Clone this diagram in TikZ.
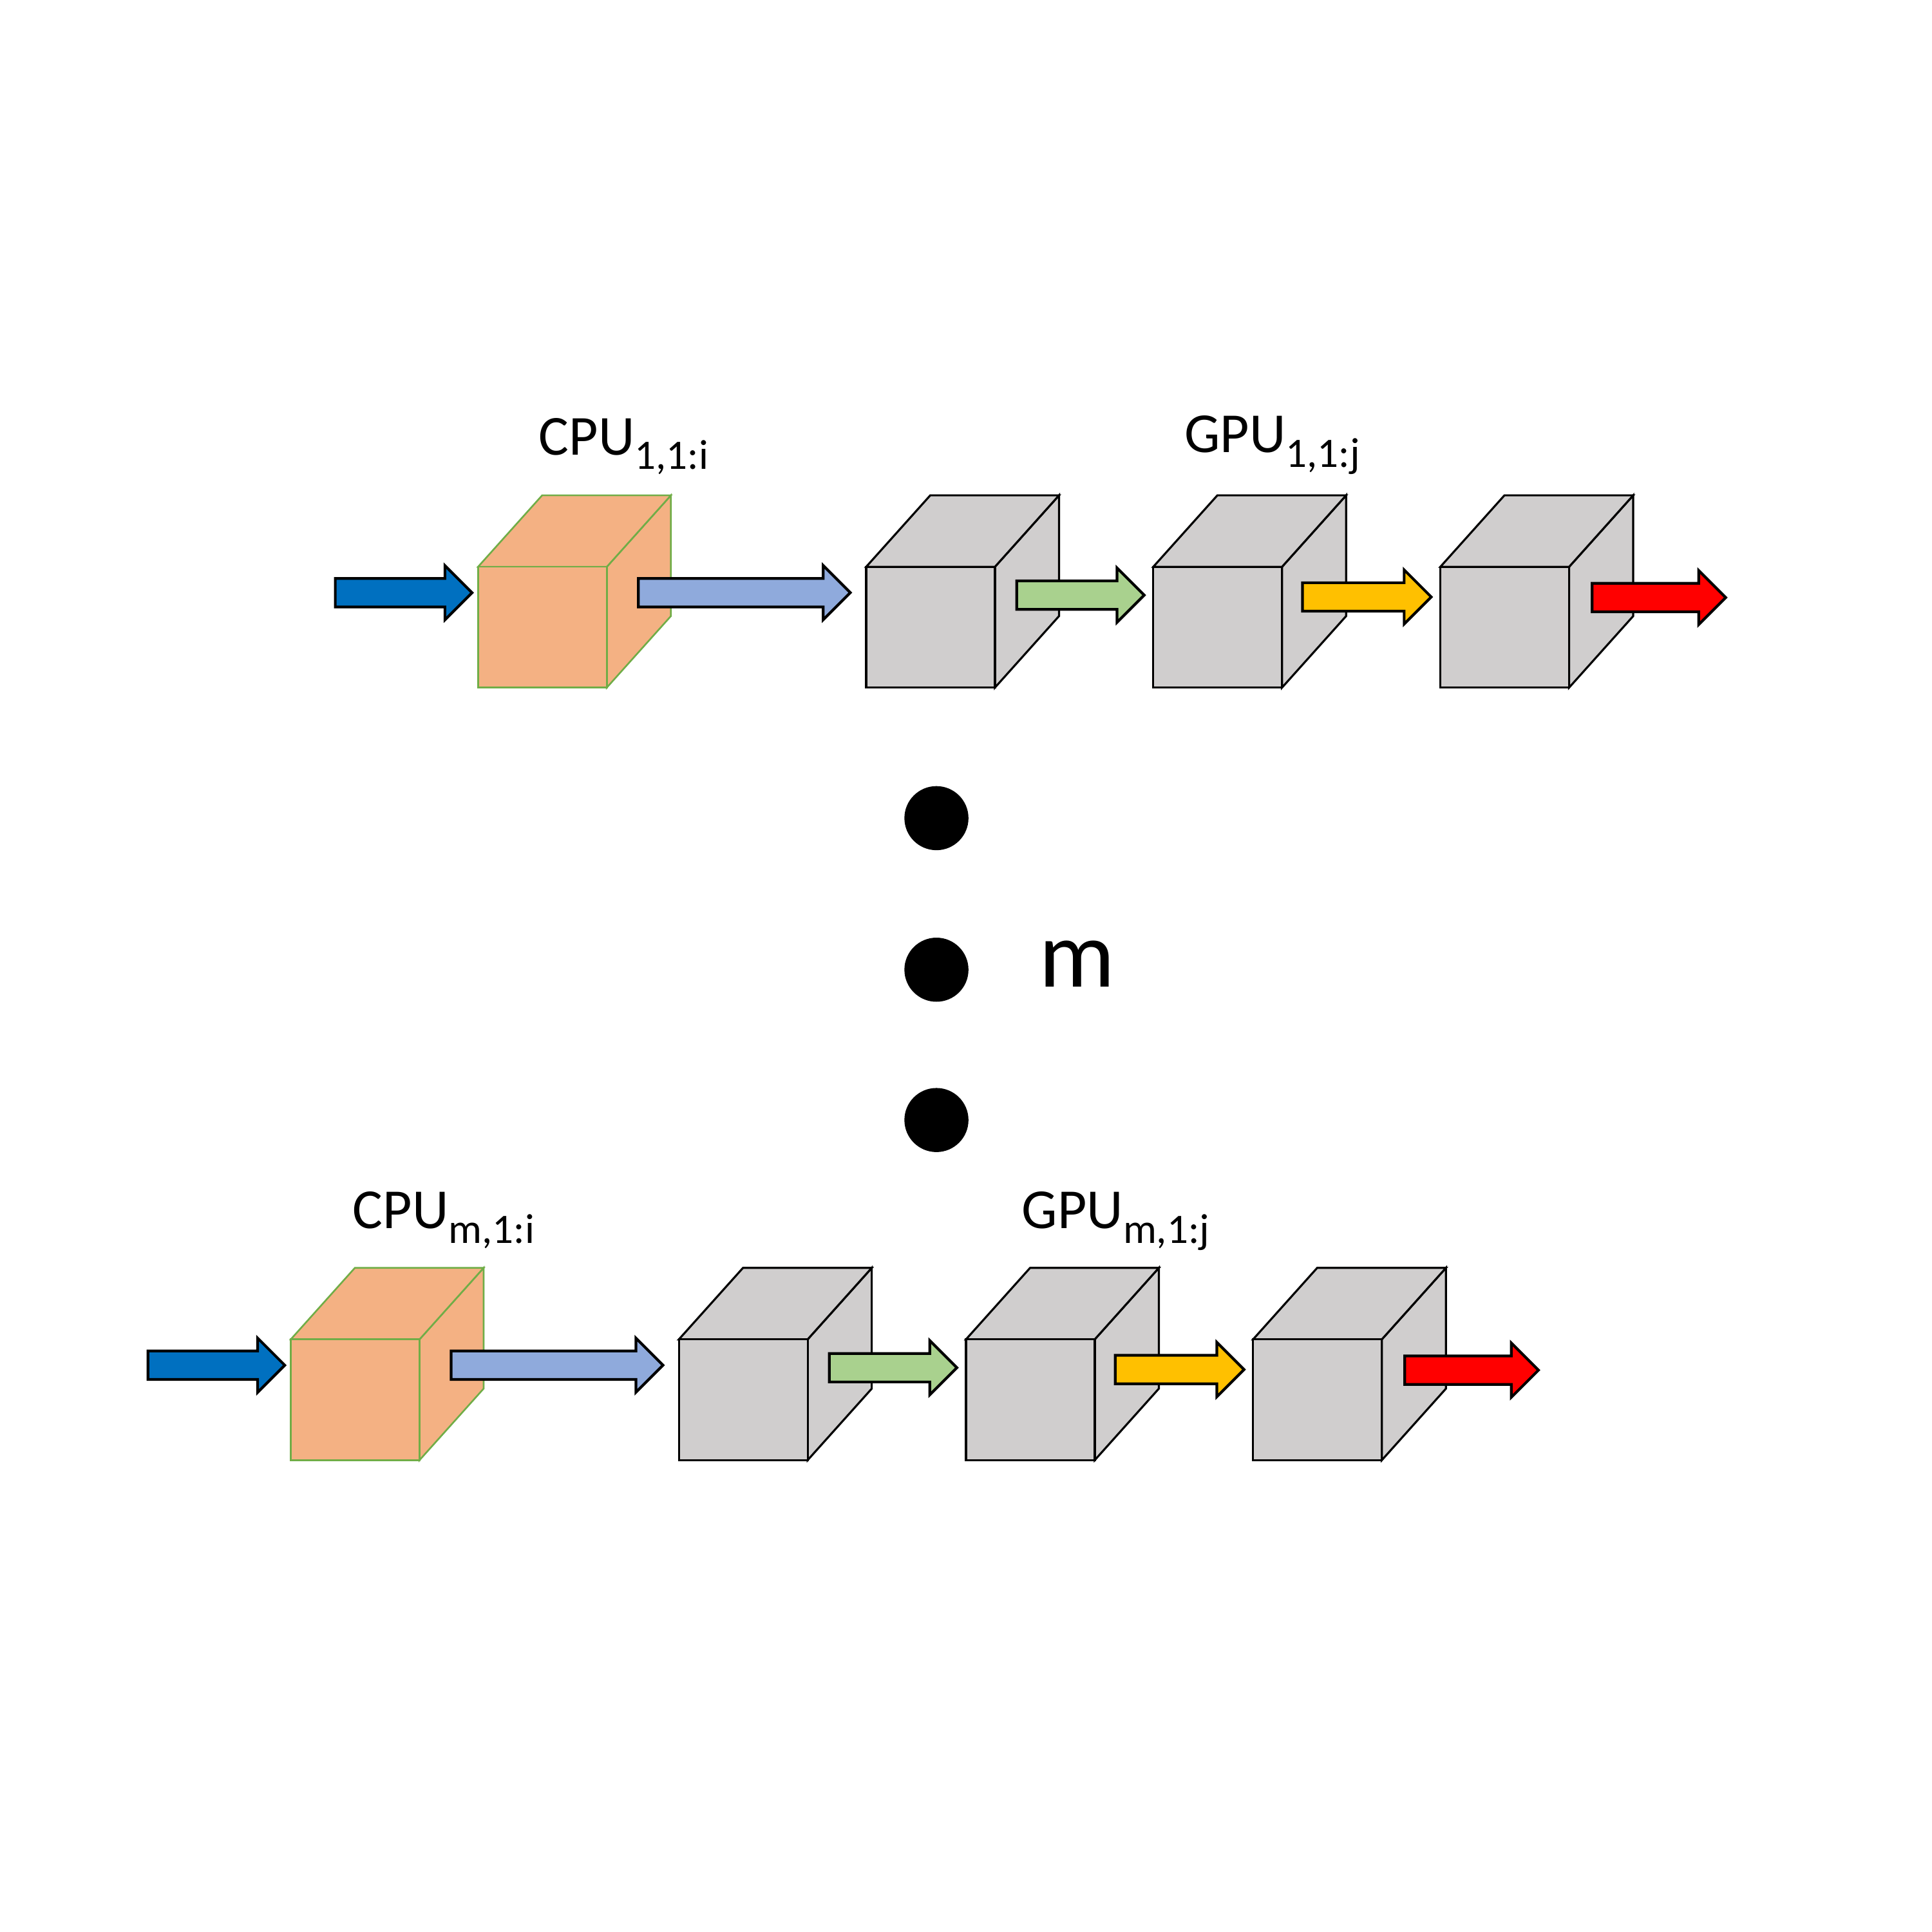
\documentclass[tikz,border=0pt]{standalone}
\usepackage{fontspec}
\setmainfont{Carlito}
\usetikzlibrary{shapes.arrows}
\definecolor{cpufill}{HTML}{F4B183}
\definecolor{cpuline}{HTML}{70AD47}
\definecolor{gpufill}{HTML}{D0CECE}
\definecolor{arrA}{HTML}{0070C0}
\definecolor{arrB}{HTML}{8FAADC}
\definecolor{arrC}{HTML}{A9D18E}
\definecolor{arrD}{HTML}{FFC000}
\definecolor{arrE}{HTML}{FF0000}
\newcommand\lowsub[1]{\raisebox{-0.26em}{\fontsize{18.5}{18.5}\selectfont #1}}
\tikzset{
  pics/cube/.style={code={
    \draw[#1] (104.5,0) -- (156.5,-58) -- (156.5,40) -- (104.5,98) -- cycle;
    \draw[#1] (0,0) -- (52,-58) -- (156.5,-58) -- (104.5,0) -- cycle;
    \node[#1, anchor=north west, minimum width=2.0cm, minimum height=1.875cm, inner sep=0pt, outer sep=0pt] (-f) at (0,0) {};
  }},
  cpucube/.style={fill=cpufill, draw=cpuline, line width=0.75pt, line join=miter},
  gpucube/.style={fill=gpufill, draw=black, line width=0.9pt, line join=miter},
  flow/.style={single arrow, draw=black, line width=1.2pt, inner xsep=0pt, inner ysep=0.2cm,
    single arrow head extend=0.2cm, single arrow tip angle=90, minimum width=0pt, anchor=tail},
  alen/.style={minimum height=#1*0.019133cm},
  lbl/.style={anchor=base west, inner sep=0pt, font=\fontsize{25}{30}\selectfont},
  dot/.style={circle, fill=black, inner sep=0pt, minimum size=0.995cm},
}
\begin{document}
\begin{tikzpicture}[x=0.019133cm,y=-0.019133cm]
\fill[white] (0,0) rectangle (1568,1568);
\useasboundingbox (0,0) rectangle (1568,1568);

% top row
\pic (t1) at (388,460) {cube=cpucube};
\pic (t2) at (703,460) {cube=gpucube};
\pic (t3) at (936,460) {cube=gpucube};
\pic (t4) at (1169,460) {cube=gpucube};
\node[flow, fill=arrA, alen=111] (ta1) at (271,481) {};
\node[flow, fill=arrB, alen=172] (ta2) at (517,481) {};
\node[flow, fill=arrC, alen=103.5] (ta3) at (824,483) {};
\node[flow, fill=arrD, alen=104.5] (ta4) at (1056,484.5) {};
\node[flow, fill=arrE, alen=108.5] (ta5) at (1291,485) {};

% bottom row
\begin{scope}[shift={(-152,627)}]
\pic (b1) at (388,460) {cube=cpucube};
\pic (b2) at (703,460) {cube=gpucube};
\pic (b3) at (936,460) {cube=gpucube};
\pic (b4) at (1169,460) {cube=gpucube};
\node[flow, fill=arrA, alen=111] (ba1) at (271,481) {};
\node[flow, fill=arrB, alen=172] (ba2) at (517,481) {};
\node[flow, fill=arrC, alen=103.5] (ba3) at (824,483) {};
\node[flow, fill=arrD, alen=104.5] (ba4) at (1056,484.5) {};
\node[flow, fill=arrE, alen=108.5] (ba5) at (1291,485) {};
\end{scope}

% labels
\node[lbl] (lcpu1) at (437,369) {CPU\lowsub{1,1:i}};
\node[lbl] (lgpu1) at (961,367) {GPU\lowsub{1,1:j}};
\node[lbl] (lcpum) at (286,997) {CPU\lowsub{m,1:i}};
\node[lbl] (lgpum) at (829,997) {GPU\lowsub{m,1:j}};

% dots
\node[dot] (d1) at (760,664) {};
\node[dot] (d2) at (760,787) {};
\node[dot] (d3) at (760,909) {};
\node[anchor=base west, inner sep=0pt, font=\fontsize{42}{50}\selectfont] (mlbl) at (843,801) {m};
\end{tikzpicture}
\end{document}
